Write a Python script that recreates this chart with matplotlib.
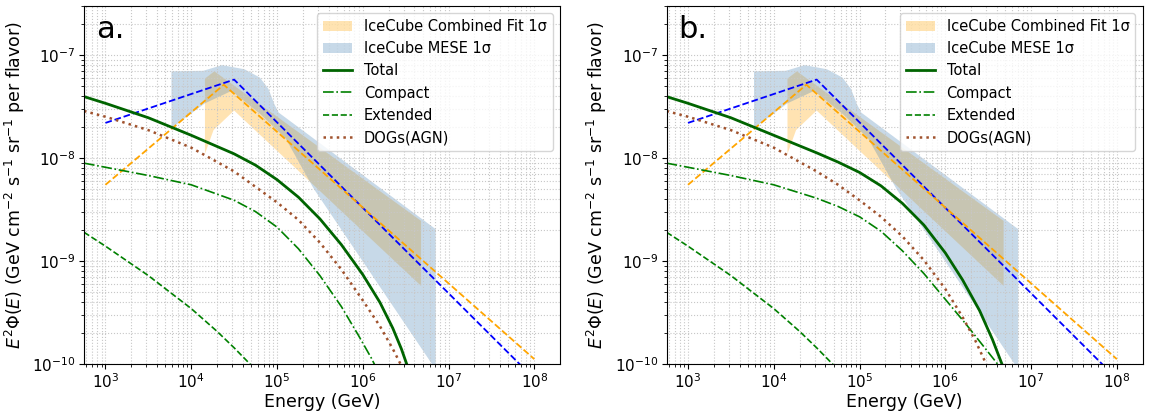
import matplotlib
matplotlib.use("Agg")  # no display in the sandbox
import matplotlib.pyplot as plt
import numpy as np

# All values, in decades:
# log10(E / GeV) and log10(E^2 Phi / GeV cm^-2 s^-1 sr^-1)

# IceCube best fits (dashed)
mese_fit_logE = [3.0, 4.5, 8.0]
mese_fit_logF = [-7.66, -7.24, -10.14]
comb_fit_logE = [3.0, 4.38, 8.0]
comb_fit_logF = [-8.26, -7.29, -9.95]

# IceCube 1 sigma bands
comb_up_logE = [4.16, 4.27, 6.68]
comb_up_logF = [-7.23, -7.16, -8.61]
comb_lo_logE = [4.16, 4.26, 4.50, 6.68]
comb_lo_logF = [-7.96, -7.73, -7.54, -9.24]

mese_up_logE = [3.77, 4.14, 4.36, 4.62, 4.80, 4.90, 4.97, 5.02, 6.85]
mese_up_logF = [-7.16, -7.155, -7.10, -7.14, -7.22, -7.33, -7.48, -7.56, -8.69]
mese_lo_logE = [3.77, 4.16, 4.47, 4.80, 5.10, 5.43, 6.85]
mese_lo_logF = [-7.71, -7.47, -7.35, -7.57, -7.81, -8.30, -10.05]

# model components, panel a
total_a_logE = [2.75, 3.0, 3.5, 4.0, 4.5, 4.75, 5.0, 5.25, 5.5, 5.75, 6.0, 6.2, 6.35, 6.45, 6.53]
total_a_logF = [-7.405, -7.47, -7.61, -7.78, -7.96, -8.07, -8.21, -8.38, -8.59, -8.84,
                -9.13, -9.40, -9.65, -9.85, -10.04]
compact_a_logE = [2.75, 3.0, 3.5, 4.0, 4.5, 4.75, 5.0, 5.25, 5.5, 5.75, 5.95, 6.1, 6.16]
compact_a_logF = [-8.05, -8.09, -8.17, -8.26, -8.41, -8.52, -8.67, -8.88, -9.14, -9.44,
                  -9.72, -9.94, -10.04]
extended_a_logE = [2.75, 3.0, 3.5, 4.0, 4.3, 4.5, 4.7]
extended_a_logF = [-8.72, -8.855, -9.14, -9.46, -9.68, -9.84, -10.01]
dogs_a_logE = [2.75, 3.0, 3.5, 4.0, 4.5, 4.75, 5.0, 5.25, 5.5, 5.75, 6.0, 6.2, 6.35, 6.46]
dogs_a_logF = [-7.545, -7.60, -7.73, -7.90, -8.13, -8.28, -8.43, -8.60, -8.82, -9.08,
               -9.38, -9.63, -9.85, -10.03]

# model components, panel b
total_b_logE = [2.75, 3.0, 3.5, 4.0, 4.5, 4.75, 5.0, 5.25, 5.5, 5.75, 6.0, 6.2, 6.4, 6.55, 6.68]
total_b_logF = [-7.405, -7.47, -7.61, -7.78, -7.95, -8.04, -8.14, -8.27, -8.44, -8.65,
                -8.92, -9.18, -9.48, -9.76, -10.04]
compact_b_logE = [2.75, 3.0, 3.5, 4.0, 4.5, 4.75, 5.0, 5.25, 5.5, 5.75, 6.0, 6.25, 6.45, 6.65]
compact_b_logF = [-8.05, -8.09, -8.17, -8.26, -8.39, -8.47, -8.57, -8.71, -8.90, -9.12,
                  -9.37, -9.62, -9.83, -10.04]
extended_b_logE = extended_a_logE
extended_b_logF = extended_a_logF
dogs_b_logE = [2.75, 3.0, 3.5, 4.0, 4.5, 4.75, 5.0, 5.25, 5.5, 5.75, 6.0, 6.2, 6.35, 6.5]
dogs_b_logF = [-7.545, -7.60, -7.73, -7.90, -8.13, -8.26, -8.41, -8.57, -8.76, -8.99,
               -9.27, -9.54, -9.77, -10.04]

x_ticks = [1e3, 1e4, 1e5, 1e6, 1e7, 1e8]
y_ticks = [1e-10, 1e-9, 1e-8, 1e-7]

panels = [
    ("a.", total_a_logE, total_a_logF, compact_a_logE, compact_a_logF,
     extended_a_logE, extended_a_logF, dogs_a_logE, dogs_a_logF),
    ("b.", total_b_logE, total_b_logF, compact_b_logE, compact_b_logF,
     extended_b_logE, extended_b_logF, dogs_b_logE, dogs_b_logF),
]


def _dec(v):
    return np.power(10.0, np.asarray(v, dtype=float))


def _band(ax, up_x, up_y, lo_x, lo_y, **kw):
    xs = np.concatenate([_dec(up_x), _dec(lo_x)[::-1]])
    ys = np.concatenate([_dec(up_y), _dec(lo_y)[::-1]])
    return ax.fill(xs, ys, **kw)[0]


def _draw(ax, tag, tx, ty, cx, cy, ex, ey, dx, dy):
    h_comb = _band(ax, comb_up_logE, comb_up_logF, comb_lo_logE, comb_lo_logF,
                   color="orange", alpha=0.3, lw=0, label="IceCube Combined Fit 1σ")
    h_mese = _band(ax, mese_up_logE, mese_up_logF, mese_lo_logE, mese_lo_logF,
                   color="steelblue", alpha=0.3, lw=0, label="IceCube MESE 1σ")
    ax.plot(_dec(mese_fit_logE), _dec(mese_fit_logF), color="blue", ls="--", lw=1.3)
    ax.plot(_dec(comb_fit_logE), _dec(comb_fit_logF), color="orange", ls="--", lw=1.3)

    h_tot, = ax.plot(_dec(tx), _dec(ty), color="darkgreen", lw=2.0, label="Total")
    h_cmp, = ax.plot(_dec(cx), _dec(cy), color="green", ls="-.", lw=1.2, label="Compact")
    h_ext, = ax.plot(_dec(ex), _dec(ey), color="green", ls="--", lw=1.2, label="Extended")
    h_dog, = ax.plot(_dec(dx), _dec(dy), color="sienna", ls=":", lw=1.8, label="DOGs(AGN)")

    ax.set_xscale("log")
    ax.set_yscale("log")
    ax.set_xticks(x_ticks)
    ax.set_yticks(y_ticks)
    ax.set_xlim(10**2.75, 10**8.3)
    ax.set_ylim(1e-10, 3e-7)
    ax.grid(True, which="both", ls=":", lw=0.8, color="0.78")
    ax.tick_params(labelsize=11, pad=2.5)
    ax.set_xlabel("Energy (GeV)", fontsize=12.5, labelpad=1)
    ax.set_ylabel(r"$E^2\Phi(E)$ (GeV cm$^{-2}$ s$^{-1}$ sr$^{-1}$ per flavor)", fontsize=12.5)
    ax.text(0.025, 0.91, tag, transform=ax.transAxes, fontsize=22, va="baseline")
    ax.legend(handles=[h_comb, h_mese, h_tot, h_cmp, h_ext, h_dog],
              loc="upper right", fontsize=10.5)


fig = plt.figure(figsize=(11.54, 4.12), dpi=100)
boxes = [[0.0728, 0.1158, 0.4125, 0.8706], [0.5776, 0.1158, 0.4125, 0.8706]]
for box, spec in zip(boxes, panels):
    ax = fig.add_axes(box)
    _draw(ax, *spec)

fig.savefig("out.png", dpi=100)
plt.close(fig)
